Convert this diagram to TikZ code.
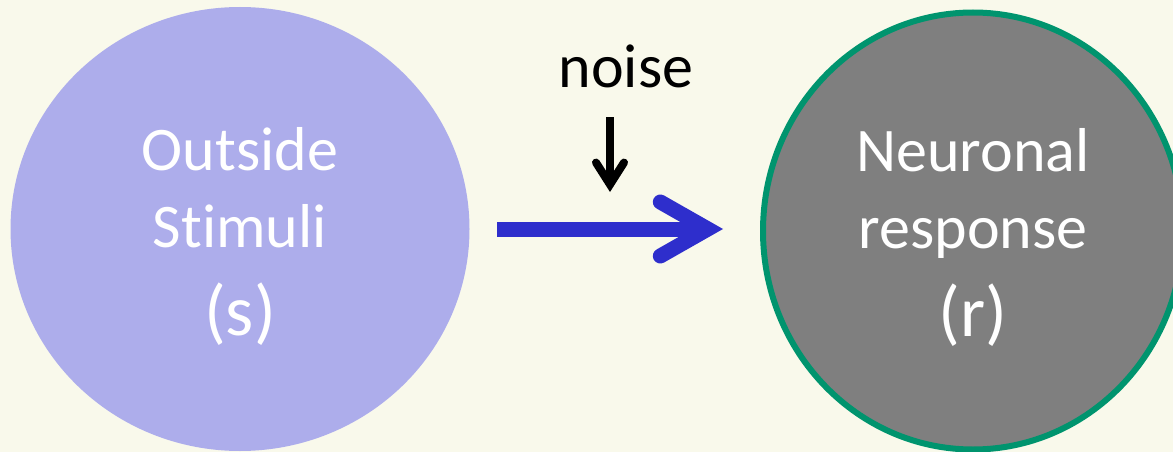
\documentclass[tikz,border=0pt]{standalone}
\usepackage{fontspec}
\setmainfont{Carlito}[Ligatures=NoCommon]
\usetikzlibrary{arrows.meta,shapes.geometric}
\definecolor{bgcream}{HTML}{F9F9EB}
\definecolor{stimfill}{HTML}{ADADEB}
\definecolor{respfill}{HTML}{7F7F7F}
\definecolor{respline}{HTML}{00946E}
\definecolor{flowblue}{HTML}{2E2ECC}
\begin{document}
\begin{tikzpicture}[x=1pt,y=-1pt,
  blob/.style={ellipse, inner sep=0pt},
  lbl/.style={text=white, align=center, inner sep=0pt,
    font=\fontsize{62}{77}\selectfont},
  flow/.style={flowblue, line width=15pt,
    -{Straight Barb[length=47.5pt, width=54pt, line cap=round, line join=miter]}},
  noisearrow/.style={black, line width=8pt,
    -{Straight Barb[length=22pt, width=28pt, line cap=round, line join=miter]}}]
  % page and background
  \fill[bgcream] (0,0) rectangle (1173,452);
  \useasboundingbox (0,0) rectangle (1173,452);

  % stimulus and response
  \node[blob, fill=stimfill, minimum width=459pt, minimum height=444pt] (stim) at (240,229) {};
  \node[blob, fill=respfill, draw=respline, line width=6pt,
        minimum width=420pt, minimum height=437pt] (resp) at (973,231) {};

  \node[lbl] (stimtext) at (240,236) {Outside\\Stimuli\\[11pt]{\fontsize{72}{77}\selectfont (s)}};
  \node[lbl] (resptext) at (973,237) {Neuronal\\response\\[11pt]{\fontsize{72}{77}\selectfont (r)}};

  % flow from stimulus to response
  \draw[flow, shorten <=27.5pt, shorten >=37pt] (stim.east) -- (stim.east -| resp.west);

  % noise entering the channel
  \node[anchor=base, inner sep=0pt, font=\fontsize{62}{77}\selectfont] (noise) at (626,88) {noise};
  \coordinate (noisefrom) at (610,117);
  \coordinate (noiseto) at (610,192);
  \draw[noisearrow] (noisefrom) -- (noiseto);
\end{tikzpicture}
\end{document}
